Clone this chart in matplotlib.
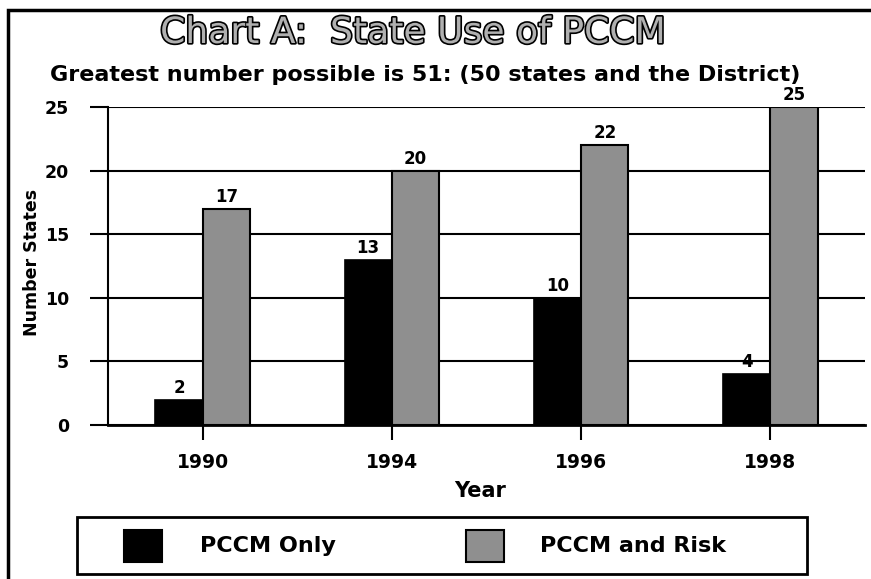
import matplotlib
matplotlib.use("Agg")
import matplotlib.pyplot as plt
import matplotlib.patheffects as pe
from matplotlib.patches import Rectangle
import numpy as np

years = ["1990", "1994", "1996", "1998"]
pccm_only = [2, 13, 10, 4]
pccm_risk = [17, 20, 22, 25]
series_names = ["PCCM Only", "PCCM and Risk"]
yticks = [0, 5, 10, 15, 20, 25]

W, H = 871, 579
fig = plt.figure(figsize=(W / 100, H / 100), dpi=100)
plt.rcParams['font.family'] = ['DejaVu Sans']

def fx(px):
    return px / W

def fy(py):
    return 1 - py / H

ax = fig.add_axes([fx(108), fy(425), fx(865) - fx(108), fy(107) - fy(425)])
x = np.arange(len(years))
bw = 0.25
black = "#000000"
gray = "#8f8f8f"
b1 = ax.bar(x - bw / 2, pccm_only, bw, color=black, edgecolor=black, linewidth=1.2, zorder=3)
b2 = ax.bar(x + bw / 2, pccm_risk, bw, color=gray, edgecolor=black, linewidth=1.5, zorder=3)
for bars, vals in ((b1, pccm_only), (b2, pccm_risk)):
    for r, v in zip(bars, vals):
        ax.annotate(str(v), (r.get_x() + r.get_width() / 2, v), xytext=(0, 2),
                    textcoords="offset points", ha="center", va="bottom",
                    fontsize=12, fontweight="bold", zorder=4)

ax.set_xlim(-0.5, 3.5)
ax.set_ylim(0, 25)
ax.set_yticks(yticks)
ax.set_yticklabels([str(t) for t in yticks], fontsize=12.5, fontweight="bold")
ax.set_xticks(x)
ax.set_xticklabels(years, fontsize=13.5, fontweight="bold")
ax.tick_params(axis="y", direction="out", length=13, width=1.5, pad=15)
ax.tick_params(axis="x", direction="out", length=11, width=1.5, pad=9)
ax.grid(axis="y", color="black", linewidth=1.5, zorder=0)
for s in ("top", "right"):
    ax.spines[s].set_visible(False)
ax.spines["left"].set_linewidth(1.5)
ax.spines["bottom"].set_linewidth(2)
ax.set_axisbelow(True)

fig.text(fx(480), fy(491), "Year", ha="center", va="center", fontsize=15, fontweight="bold")
fig.text(fx(32), fy(262), "Number States", rotation=90, ha="center", va="center",
         fontsize=12.5, fontweight="bold")

# Title and subtitle
fig.text(fx(413), fy(33), "Chart A:  State Use of PCCM", ha="center", va="center",
         fontsize=26, color="#b0b0b0",
         path_effects=[pe.withStroke(linewidth=2.4, foreground="black")])
fig.text(fx(425), fy(75), "Greatest number possible is 51: (50 states and the District)",
         ha="center", va="center", fontsize=16, fontweight="bold")

# Figure border
fig.add_artist(Rectangle((fx(8), fy(H + 20)), fx(W + 20) - fx(8), fy(10) - fy(H + 20),
                         transform=fig.transFigure, fill=False, edgecolor="black", linewidth=2.5))

# Legend box
fig.add_artist(Rectangle((fx(77), fy(574)), fx(807) - fx(77), fy(517) - fy(574),
                         transform=fig.transFigure, fill=False, edgecolor="black", linewidth=2))
legend_items = [(series_names[0], black, 124, 200), (series_names[1], gray, 466, 540)]
for name, col, sx, tx in legend_items:
    fig.add_artist(Rectangle((fx(sx), fy(562)), fx(sx + 38) - fx(sx), fy(530) - fy(562),
                             transform=fig.transFigure, facecolor=col, edgecolor="black", linewidth=1.5))
    fig.text(fx(tx), fy(546), name, ha="left", va="center", fontsize=16, fontweight="bold")

fig.savefig("out.png", dpi=100)
